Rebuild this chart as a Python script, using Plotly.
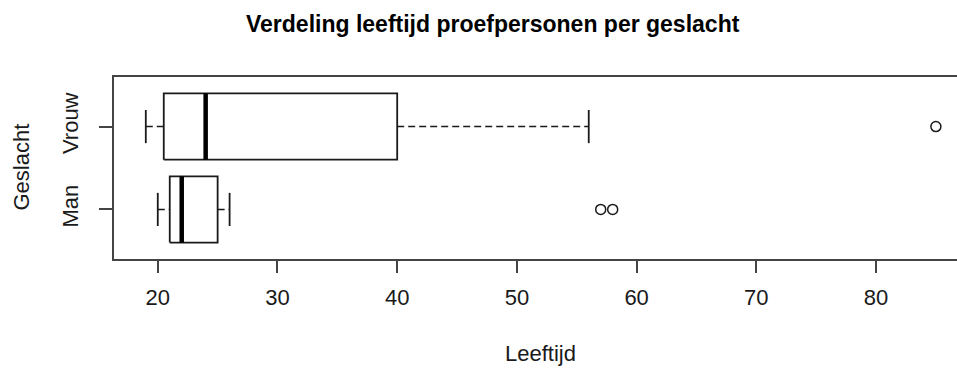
import plotly.graph_objects as go

# ---- data ----
groups = ["Man", "Vrouw"]
group_pos = [1, 2]
whisker_low = [20, 19]
q1 = [21, 20.5]
median = [22, 24]
q3 = [25, 40]
whisker_high = [26, 56]
outliers = {"Man": [57, 58], "Vrouw": [85]}
x_ticks = [20, 30, 40, 50, 60, 70, 80]

title = "Verdeling leeftijd proefpersonen per geslacht"
x_title = "Leeftijd"
y_title = "Geslacht"

# ---- geometry / style ----
W, H = 957, 369
ML, MR, MT, MB = 113.5, 0, 77.3, 110.3
box_half = 0.4
staple_half = 0.2
FONT = "Liberation Sans, Arial, sans-serif"
LINE = "#1a1a1a"
AX = "#444444"

fig = go.Figure()

for g, p, lo, a, m, b, hi in zip(groups, group_pos, whisker_low, q1, median, q3, whisker_high):
    # whiskers (dashed)
    fig.add_trace(go.Scatter(x=[lo, a, None, b, hi], y=[p, p, None, p, p], mode="lines",
                             line=dict(color=LINE, width=1.6, dash="7px,4px"),
                             hoverinfo="skip", showlegend=False))
    # staples
    fig.add_trace(go.Scatter(x=[lo, lo, None, hi, hi],
                             y=[p - staple_half, p + staple_half, None, p - staple_half, p + staple_half],
                             mode="lines", line=dict(color=LINE, width=1.8),
                             hoverinfo="skip", showlegend=False))
    # box
    fig.add_trace(go.Scatter(x=[a, b, b, a, a],
                             y=[p - box_half, p - box_half, p + box_half, p + box_half, p - box_half],
                             mode="lines", line=dict(color=LINE, width=1.8),
                             hoverinfo="skip", showlegend=False))
    # median
    fig.add_trace(go.Scatter(x=[m, m], y=[p - box_half, p + box_half], mode="lines",
                             line=dict(color="#000000", width=4.5),
                             hoverinfo="skip", showlegend=False))
    # outliers
    fig.add_trace(go.Scatter(x=outliers[g], y=[p] * len(outliers[g]), mode="markers",
                             marker=dict(symbol="circle-open", size=10, color=LINE,
                                         line=dict(width=1.5, color=LINE)),
                             hoverinfo="skip", showlegend=False))

plot_w = W - ML - MR
plot_h = H - MT - MB
px_per_unit = (876.0 - 157.3) / 60.0
x0 = 20 - (157.3 - ML) / px_per_unit
x1 = 20 + (W - MR - 157.3) / px_per_unit

fig.update_layout(
    width=W, height=H,
    margin=dict(l=ML, r=MR, t=MT, b=MB, pad=0),
    paper_bgcolor="white", plot_bgcolor="white",
    font=dict(family=FONT, size=22, color="#1a1a1a"),
    xaxis=dict(range=[x0, x1], tickvals=x_ticks, ticktext=[str(v) for v in x_ticks],
               showgrid=False, zeroline=False, showline=True, mirror=True,
               linecolor=AX, linewidth=1.5, ticks="outside", ticklen=12,
               tickwidth=1.5, tickcolor=AX, tickfont=dict(size=22),
               ticklabelstandoff=6),
    yaxis=dict(range=[0.402, 2.598], tickvals=group_pos, ticktext=groups,
               showgrid=False, zeroline=False, showline=True, mirror=False,
               linecolor=AX, linewidth=1.5, ticks="outside", ticklen=13,
               tickwidth=1.5, tickcolor=AX, tickangle=-90, tickfont=dict(size=22),
               ticklabelstandoff=12),
    annotations=[
        dict(text="<b>" + title + "</b>", xref="paper", yref="paper",
             x=(492.5 - ML) / plot_w, y=1 + (MT - 24) / plot_h,
             xanchor="center", yanchor="middle", showarrow=False,
             font=dict(size=23, family=FONT, color="#000000")),
        dict(text=x_title, xref="paper", yref="paper",
             x=(540 - ML) / plot_w, y=-(353 - MT - plot_h) / plot_h,
             xanchor="center", yanchor="middle", showarrow=False,
             font=dict(size=22, family=FONT, color="#1a1a1a")),
        dict(text=y_title, xref="paper", yref="paper",
             x=-(ML - 21) / plot_w, y=1 - (167 - MT) / plot_h,
             xanchor="center", yanchor="middle", textangle=-90, showarrow=False,
             font=dict(size=22, family=FONT, color="#1a1a1a")),
    ],
)

fig.write_html("out.html")
